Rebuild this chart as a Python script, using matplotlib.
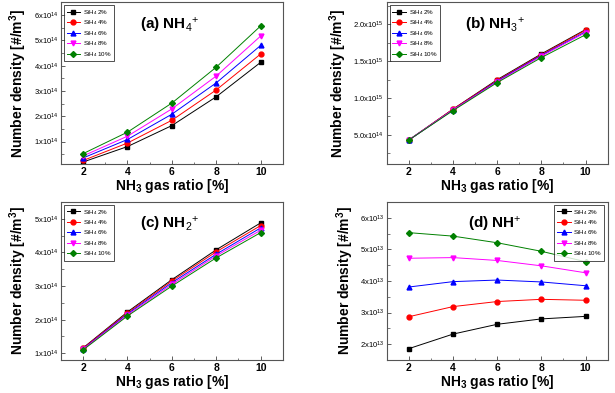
import numpy as np
import matplotlib
matplotlib.use('Agg')
import matplotlib.pyplot as plt
from matplotlib.ticker import MultipleLocator, AutoMinorLocator

plt.rcParams['font.family'] = ['Liberation Sans', 'DejaVu Sans']
plt.rcParams['mathtext.fontset'] = 'custom'
plt.rcParams['mathtext.rm'] = 'Liberation Sans'
plt.rcParams['mathtext.it'] = 'Liberation Sans:italic'
plt.rcParams['mathtext.bf'] = 'Liberation Sans:bold'

nh3 = [2, 4, 6, 8, 10]
labels = ['SiH$_4$ 2%', 'SiH$_4$ 4%', 'SiH$_4$ 6%', 'SiH$_4$ 8%', 'SiH$_4$ 10%']

# (a) NH4+  [x1e14]
nh4 = [
    [0.19, 0.80, 1.63, 2.77, 4.13],
    [0.25, 0.94, 1.84, 3.04, 4.46],
    [0.35, 1.08, 2.08, 3.32, 4.80],
    [0.43, 1.21, 2.29, 3.59, 5.17],
    [0.52, 1.37, 2.52, 3.94, 5.57],
]
# (b) NH3+  [x1e15]
nh3p = [
    [0.43, 0.85, 1.25, 1.60, 1.93],
    [0.43, 0.85, 1.24, 1.59, 1.92],
    [0.43, 0.84, 1.23, 1.58, 1.90],
    [0.43, 0.84, 1.22, 1.57, 1.89],
    [0.43, 0.83, 1.21, 1.55, 1.86],
]
# (c) NH2+  [x1e14]
nh2 = [
    [1.16, 2.23, 3.19, 4.08, 4.88],
    [1.15, 2.20, 3.15, 4.02, 4.80],
    [1.13, 2.17, 3.10, 3.95, 4.73],
    [1.12, 2.14, 3.05, 3.90, 4.66],
    [1.10, 2.11, 3.00, 3.84, 4.59],
]
# (d) NH+  [x1e13]
nh = [
    [1.86, 2.32, 2.63, 2.80, 2.88],
    [2.87, 3.19, 3.35, 3.42, 3.39],
    [3.81, 3.98, 4.03, 3.97, 3.85],
    [4.72, 4.74, 4.65, 4.48, 4.26],
    [5.53, 5.42, 5.21, 4.94, 4.61],
]

colors = ['black', 'red', 'blue', 'magenta', '#008000']
markers = ['s', 'o', '^', 'v', 'D']

panels = [
    dict(data=nh4, title='(a) NH$_4$$^{+}$', ylim=(0.1, 6.5),
         yticks=[1, 2, 3, 4, 5, 6], yfmt='{:d}x10$^{{14}}$', leg='upper left'),
    dict(data=nh3p, title='(b) NH$_3$$^{+}$', ylim=(0.1, 2.3),
         yticks=[0.5, 1.0, 1.5, 2.0], yfmt=None, leg='upper left'),
    dict(data=nh2, title='(c) NH$_2$$^{+}$', ylim=(0.8, 5.5),
         yticks=[1, 2, 3, 4, 5], yfmt='{:d}x10$^{{14}}$', leg='upper left'),
    dict(data=nh, title='(d) NH$^{+}$', ylim=(1.5, 6.5),
         yticks=[2, 3, 4, 5, 6], yfmt='{:d}x10$^{{13}}$', leg='upper right'),
]
b_ticklabels = ['5.0x10$^{14}$', '1.0x10$^{15}$', '1.5x10$^{15}$', '2.0x10$^{15}$']

fig = plt.figure(figsize=(6.15, 3.93), dpi=100)
rects = [
    [0.099, 0.582, 0.361, 0.412],
    [0.629, 0.582, 0.359, 0.412],
    [0.099, 0.084, 0.361, 0.402],
    [0.629, 0.084, 0.359, 0.402],
]

for i, p in enumerate(panels):
    ax = fig.add_axes(rects[i])
    for k in range(5):
        ax.plot(nh3, p['data'][k], color=colors[k], marker=markers[k],
                markersize=3.5 if markers[k] != 'D' else 3, lw=0.7, label=labels[k])
    ax.set_xlim(1, 11)
    ax.set_ylim(*p['ylim'])
    ax.set_xticks(nh3)
    ax.xaxis.set_minor_locator(MultipleLocator(1))
    ax.set_yticks(p['yticks'])
    ax.yaxis.set_minor_locator(AutoMinorLocator(2))
    if p['yfmt']:
        ax.set_yticklabels([p['yfmt'].format(t) for t in p['yticks']])
    else:
        ax.set_yticklabels(b_ticklabels)
    ax.tick_params(which='both', direction='in', color='#444444')
    ax.tick_params(which='major', length=3, width=0.6)
    ax.tick_params(which='minor', length=1.8, width=0.5)
    ax.tick_params(axis='y', labelsize=5.5, pad=2)
    ax.tick_params(axis='x', labelsize=7.5, pad=2)
    for lab in ax.get_xticklabels():
        lab.set_fontweight('bold')
    for s in ax.spines.values():
        s.set_color('#555555')
        s.set_linewidth(0.8)
    ax.set_xlabel('NH$_\\mathbf{3}$ gas ratio [%]', fontsize=10, fontweight='bold', labelpad=0)
    ax.set_ylabel('Number density [#/m$^\\mathbf{3}$]', fontsize=10, fontweight='bold', labelpad=3)
    ax.text(0.49, 0.86, p['title'], transform=ax.transAxes, ha='center', va='center',
            fontsize=11, fontweight='bold')
    leg = ax.legend(loc=p['leg'], fontsize=4.5, frameon=True, fancybox=False,
                    edgecolor='black', handlelength=2.2, borderpad=0.4,
                    labelspacing=0.25, handletextpad=0.4, borderaxespad=0.5)
    leg.get_frame().set_linewidth(0.6)

fig.savefig('out.png', dpi=100)
